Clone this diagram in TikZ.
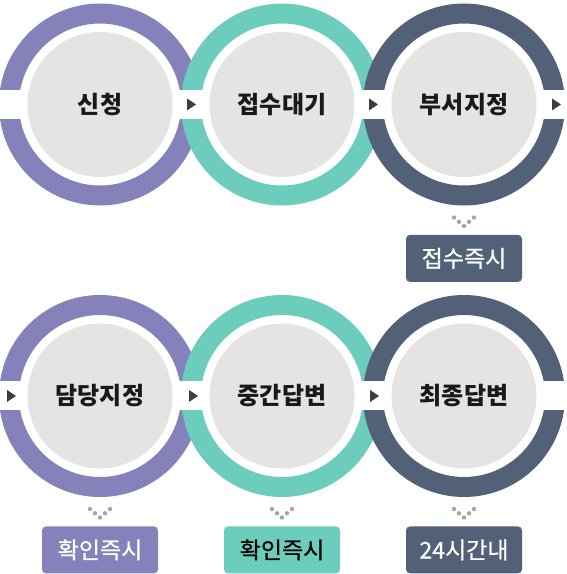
\documentclass[tikz,border=0pt]{standalone}
\usepackage{fontspec}
\newfontfamily\kr{Noto Sans CJK KR}
\newfontfamily\krtag{Noto Sans CJK KR}[FakeBold=0.8]
\usetikzlibrary{positioning}

\definecolor{stepviolet}{HTML}{8582BB}
\definecolor{stepmint}{HTML}{6CCDBD}
\definecolor{stepslate}{HTML}{526078}
\definecolor{stagegrey}{HTML}{E5E4E3}
\definecolor{arrowgrey}{HTML}{3D3D3D}
\definecolor{dotgrey}{HTML}{A6A6A6}

\begin{document}
\begin{tikzpicture}[x=1pt, y=1pt,
  ring/.style={circle, draw=#1, line width=20pt, minimum size=182pt, inner sep=0pt},
  stage/.style={circle, fill=stagegrey, minimum size=145pt, inner sep=0pt,
    text=black!90, font=\kr\bfseries\fontsize{24}{24}\selectfont},
  tag/.style={fill=#1, rounded corners=4pt, minimum width=116pt, minimum height=47pt,
    inner sep=0pt, text=white, font=\krtag\fontsize{23}{23}\selectfont},
  node distance=57.5pt]
\useasboundingbox (0,0) rectangle (567,574);
% rings
\node[ring=stepviolet] (ring-sincheong) at (100,469.5) {};
\node[ring=stepmint]   (ring-jeopsu)    at (282,469.5) {};
\node[ring=stepslate]  (ring-bujeo)     at (464,469.5) {};
\node[ring=stepviolet] (ring-damdang)   at (100,178) {};
\node[ring=stepmint]   (ring-junggan)   at (282,178) {};
\node[ring=stepslate]  (ring-choejong)  at (464,178) {};
% white bands through the rings
\fill[white] (0,455) rectangle (567,484);
\fill[white] (0,163.5) rectangle (567,192.5);
% stages
\node[stage] (sincheong) at (ring-sincheong) {신청};
\node[stage] (jeopsu)    at (ring-jeopsu)    {접수대기};
\node[stage] (bujeo)     at (ring-bujeo)     {부서지정};
\node[stage] (damdang)   at (ring-damdang)   {담당지정};
\node[stage] (junggan)   at (ring-junggan)   {중간답변};
\node[stage] (choejong)  at (ring-choejong)  {최종답변};
% arrowheads
\fill[arrowgrey] (jeopsu.center)   ++(-95,6) -- ++(9,-6) -- ++(-9,-6) -- cycle;
\fill[arrowgrey] (bujeo.center)    ++(-95,6) -- ++(9,-6) -- ++(-9,-6) -- cycle;
\fill[arrowgrey] (bujeo.center)    ++(88,6)  -- ++(9,-6) -- ++(-9,-6) -- cycle;
\fill[arrowgrey] (damdang.center)  ++(-93,6) -- ++(9,-6) -- ++(-9,-6) -- cycle;
\fill[arrowgrey] (junggan.center)  ++(-93,6) -- ++(9,-6) -- ++(-9,-6) -- cycle;
\fill[arrowgrey] (choejong.center) ++(-94,6) -- ++(9,-6) -- ++(-9,-6) -- cycle;
% dots
\foreach \s in {bujeo,damdang,junggan,choejong}
  \foreach \dx/\dy in {-10/0,-5/4.3,0/8.5,5/4.3,10/0}
    \fill[dotgrey] (\s.center) ++(\dx,-113-\dy) circle (2.2pt);
% tags
\node[tag=stepslate, below=of bujeo] (bujeo-tag) {접수즉시};
\node[tag=stepviolet, below=of damdang] (damdang-tag) {확인즉시};
\node[tag=stepmint, text=black, below=of junggan] (junggan-tag) {확인즉시};
\node[tag=stepslate, below=of choejong] (choejong-tag) {24시간내};
\end{tikzpicture}
\end{document}
